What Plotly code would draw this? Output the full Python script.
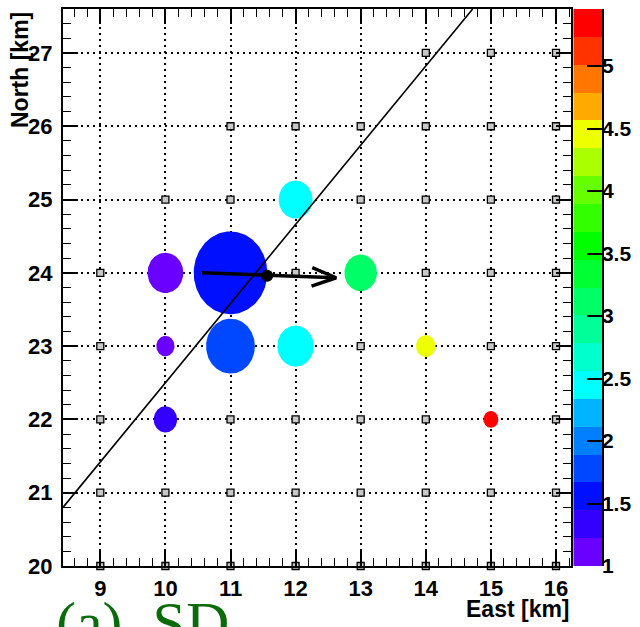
import numpy as np
import plotly.graph_objects as go

# ---------------- data ----------------
# surface detector grid positions (km)
det_rows = {
    27: [14, 15, 16],
    26: [11, 12, 13, 14, 15, 16],
    25: [10, 11, 12, 13, 14, 15, 16],
    24: [9, 10, 11, 12, 13, 14, 15, 16],
    23: [9, 10, 11, 12, 13, 14, 15, 16],
    22: [9, 10, 11, 12, 13, 14, 15, 16],
    21: [9, 10, 11, 12, 13, 14, 15, 16],
    20: [9, 10, 11, 12, 13, 14, 15, 16],
}
det_east = [e for n, es in det_rows.items() for e in es]
det_north = [n for n, es in det_rows.items() for e in es]

# hit counters: position, circle radius (km), colour value
hit_east = [10, 11, 12, 10, 11, 12, 13, 10, 14, 15]
hit_north = [24, 24, 25, 23, 23, 23, 24, 22, 23, 22]
hit_radius = [0.275, 0.565, 0.26, 0.14, 0.375, 0.28, 0.25, 0.18, 0.15, 0.115]
hit_value = [1.15, 1.55, 2.45, 1.10, 1.78, 2.45, 3.10, 1.30, 4.40, 5.45]

# shower-detector plane line
sdp_east = [8.427, 14.72]
sdp_north = [20.80, 27.60]

# core and arrival direction arrow
core_east, core_north = 11.564, 23.96
arrow_east = [10.561, 12.623]
arrow_north = [24.00, 23.933]

# colour scale
z_min, z_max = 1.0, 5.456
n_bands = 20
band_colors = [
    "#6a00ff", "#3300ff", "#0010ff", "#0048ff", "#0080ff",
    "#00b4ff", "#00ffff", "#00ffcc", "#00ff99", "#00ff66",
    "#00ff33", "#00ff00", "#33ff00", "#66ff00", "#aaff00",
    "#eeff00", "#ffaa00", "#ff7700", "#ff3300", "#ff0000",
]
cbar_ticks = [1, 1.5, 2, 2.5, 3, 3.5, 4, 4.5, 5]

x_range = [8.427, 16.226]
y_range = [20.0, 27.6]

# ---------------- geometry ----------------
W, H = 640, 627
ML, MR, MT, MB = 63, 38, 9, 61
plot_w = W - ML - MR
plot_h = H - MT - MB
main_x_end = (570.7 - ML) / plot_w
cb_x0 = (573.3 - ML) / plot_w

px_per_x = main_x_end * plot_w / (x_range[1] - x_range[0])
px_per_y = plot_h / (y_range[1] - y_range[0])

band_w = (z_max - z_min) / n_bands


def value_color(v):
    k = int(np.floor((v - z_min) / band_w))
    return band_colors[min(max(k, 0), n_bands - 1)]


FONT = "Liberation Sans"
tick_font = dict(family=FONT, size=22, color="black", weight="bold")
cbar_font = dict(family=FONT, size=21, color="black", weight="bold")
title_font = dict(family=FONT, size=23, color="black", weight="bold")

fig = go.Figure()

# detectors
fig.add_trace(go.Scatter(
    x=det_east, y=det_north, mode="markers", cliponaxis=False,
    marker=dict(symbol="square", size=7, color="#c8c8c8",
                line=dict(color="black", width=1.3)),
    hoverinfo="skip", showlegend=False,
))

# hit circles (true circles in km, so they follow the axis scales)
theta = np.linspace(0, 2 * np.pi, 160)
for e, n, r, v in zip(hit_east, hit_north, hit_radius, hit_value):
    fig.add_trace(go.Scatter(
        x=e + r * np.cos(theta), y=n + r * np.sin(theta),
        mode="lines", fill="toself", fillcolor=value_color(v),
        line=dict(width=0, color=value_color(v)),
        hoverinfo="skip", showlegend=False,
    ))

# shower-detector plane
fig.add_trace(go.Scatter(
    x=sdp_east, y=sdp_north, mode="lines",
    line=dict(color="black", width=1.6),
    hoverinfo="skip", showlegend=False,
))

# arrow shaft
fig.add_trace(go.Scatter(
    x=arrow_east, y=arrow_north, mode="lines",
    line=dict(color="black", width=3.5),
    hoverinfo="skip", showlegend=False,
))

# open arrow head, built in pixel space
tip = np.array([arrow_east[1] * px_per_x, -arrow_north[1] * px_per_y])
tail = np.array([arrow_east[0] * px_per_x, -arrow_north[0] * px_per_y])
d = (tail - tip) / np.linalg.norm(tail - tip)
head_len, head_ang = 26.0, np.radians(21)
arms = []
for s in (1, -1):
    c, sn = np.cos(s * head_ang), np.sin(s * head_ang)
    rot = np.array([d[0] * c - d[1] * sn, d[0] * sn + d[1] * c])
    arms.append(tip + head_len * rot)
head_x = [arms[0][0] / px_per_x, arrow_east[1], arms[1][0] / px_per_x]
head_y = [-arms[0][1] / px_per_y, arrow_north[1], -arms[1][1] / px_per_y]
fig.add_trace(go.Scatter(
    x=head_x, y=head_y, mode="lines",
    line=dict(color="black", width=3.5),
    hoverinfo="skip", showlegend=False,
))

# core
fig.add_trace(go.Scatter(
    x=[core_east], y=[core_north], mode="markers",
    marker=dict(color="black", size=12),
    hoverinfo="skip", showlegend=False,
))

# colour bar as a banded heatmap
band_edges = [z_min + i * band_w for i in range(n_bands + 1)]
band_mid = [[z_min + (i + 0.5) * band_w] for i in range(n_bands)]
cscale = []
for i, c in enumerate(band_colors):
    cscale.append([i / n_bands, c])
    cscale.append([(i + 1) / n_bands, c])
fig.add_trace(go.Heatmap(
    x=[0, 1], y=band_edges, z=band_mid, colorscale=cscale,
    zmin=z_min, zmax=z_max, showscale=False, xaxis="x3", yaxis="y3",
    hoverinfo="skip",
))

common = dict(ticks="inside", tickcolor="black", tickwidth=1.5,
              showline=True, linecolor="black", linewidth=2,
              zeroline=False, automargin=False)

fig.update_layout(
    width=W, height=H,
    margin=dict(l=ML, r=MR, t=MT, b=MB, pad=0, autoexpand=False),
    paper_bgcolor="white", plot_bgcolor="white",
    xaxis=dict(
        domain=[0, main_x_end], range=x_range, tickvals=list(range(9, 17)),
        ticklen=15, showgrid=True, gridcolor="black", gridwidth=1.5,
        griddash="2px,4px", tickfont=tick_font, ticklabelstandoff=2,
        minor=dict(ticks="inside", ticklen=8, dtick=0.2, tick0=9,
                   tickcolor="black", tickwidth=1.2, showgrid=False),
        mirror=True, **common),
    yaxis=dict(
        domain=[0, 1], range=y_range, tickvals=list(range(20, 28)),
        ticklen=15, showgrid=True, gridcolor="black", gridwidth=1.5,
        griddash="2px,4px", tickfont=tick_font, ticklabelstandoff=4,
        minor=dict(ticks="inside", ticklen=8, dtick=0.2, tick0=20,
                   tickcolor="black", tickwidth=1.2, showgrid=False),
        mirror=True, **common),
    xaxis2=dict(
        overlaying="x", side="top", range=x_range, tickvals=list(range(9, 17)),
        ticklen=15, showticklabels=False, showgrid=False,
        minor=dict(ticks="inside", ticklen=8, dtick=0.2, tick0=9,
                   tickcolor="black", tickwidth=1.2),
        **common),
    yaxis2=dict(
        overlaying="y", side="right", range=y_range, tickvals=list(range(20, 28)),
        ticklen=15, showticklabels=False, showgrid=False,
        minor=dict(ticks="inside", ticklen=8, dtick=0.2, tick0=20,
                   tickcolor="black", tickwidth=1.2),
        **common),
    xaxis3=dict(domain=[cb_x0, 1], range=[0, 1], visible=False,
                fixedrange=True, automargin=False),
    yaxis3=dict(domain=[0, 1], range=[z_min, z_max], anchor="x3", side="right",
                tickvals=cbar_ticks, ticktext=[f"{t:g}" for t in cbar_ticks],
                ticks="inside", ticklen=15, tickcolor="black", tickwidth=1.5,
                showline=True, linecolor="black", linewidth=1.5,
                showgrid=False, zeroline=False, tickfont=cbar_font,
                ticklabelstandoff=-6, automargin=False),
)

# dummy traces to activate the mirrored tick axes
fig.add_trace(go.Scatter(x=[None], y=[None], xaxis="x2", yaxis="y2",
                         showlegend=False, hoverinfo="skip"))

# axis titles and panel label
fig.add_annotation(text="North [km]", xref="paper", yref="paper",
                   x=-(ML - 5) / plot_w, y=1 - 1 / plot_h,
                   xanchor="left", yanchor="top",
                   textangle=-90, showarrow=False, font=title_font)
fig.add_annotation(text="East [km]", xref="paper", yref="paper",
                   x=(572 - ML) / plot_w, y=-(594 - 566) / plot_h,
                   xanchor="right", yanchor="top",
                   showarrow=False, font=title_font)
fig.add_annotation(text="(a)\u00a0\u00a0SD", xref="paper", yref="paper",
                   x=(54 - ML) / plot_w, y=-(588 - 566) / plot_h,
                   xanchor="left", yanchor="top", showarrow=False,
                   font=dict(family="Liberation Serif", size=60, color="#0b6b0b"))

fig.write_html("out.html")
